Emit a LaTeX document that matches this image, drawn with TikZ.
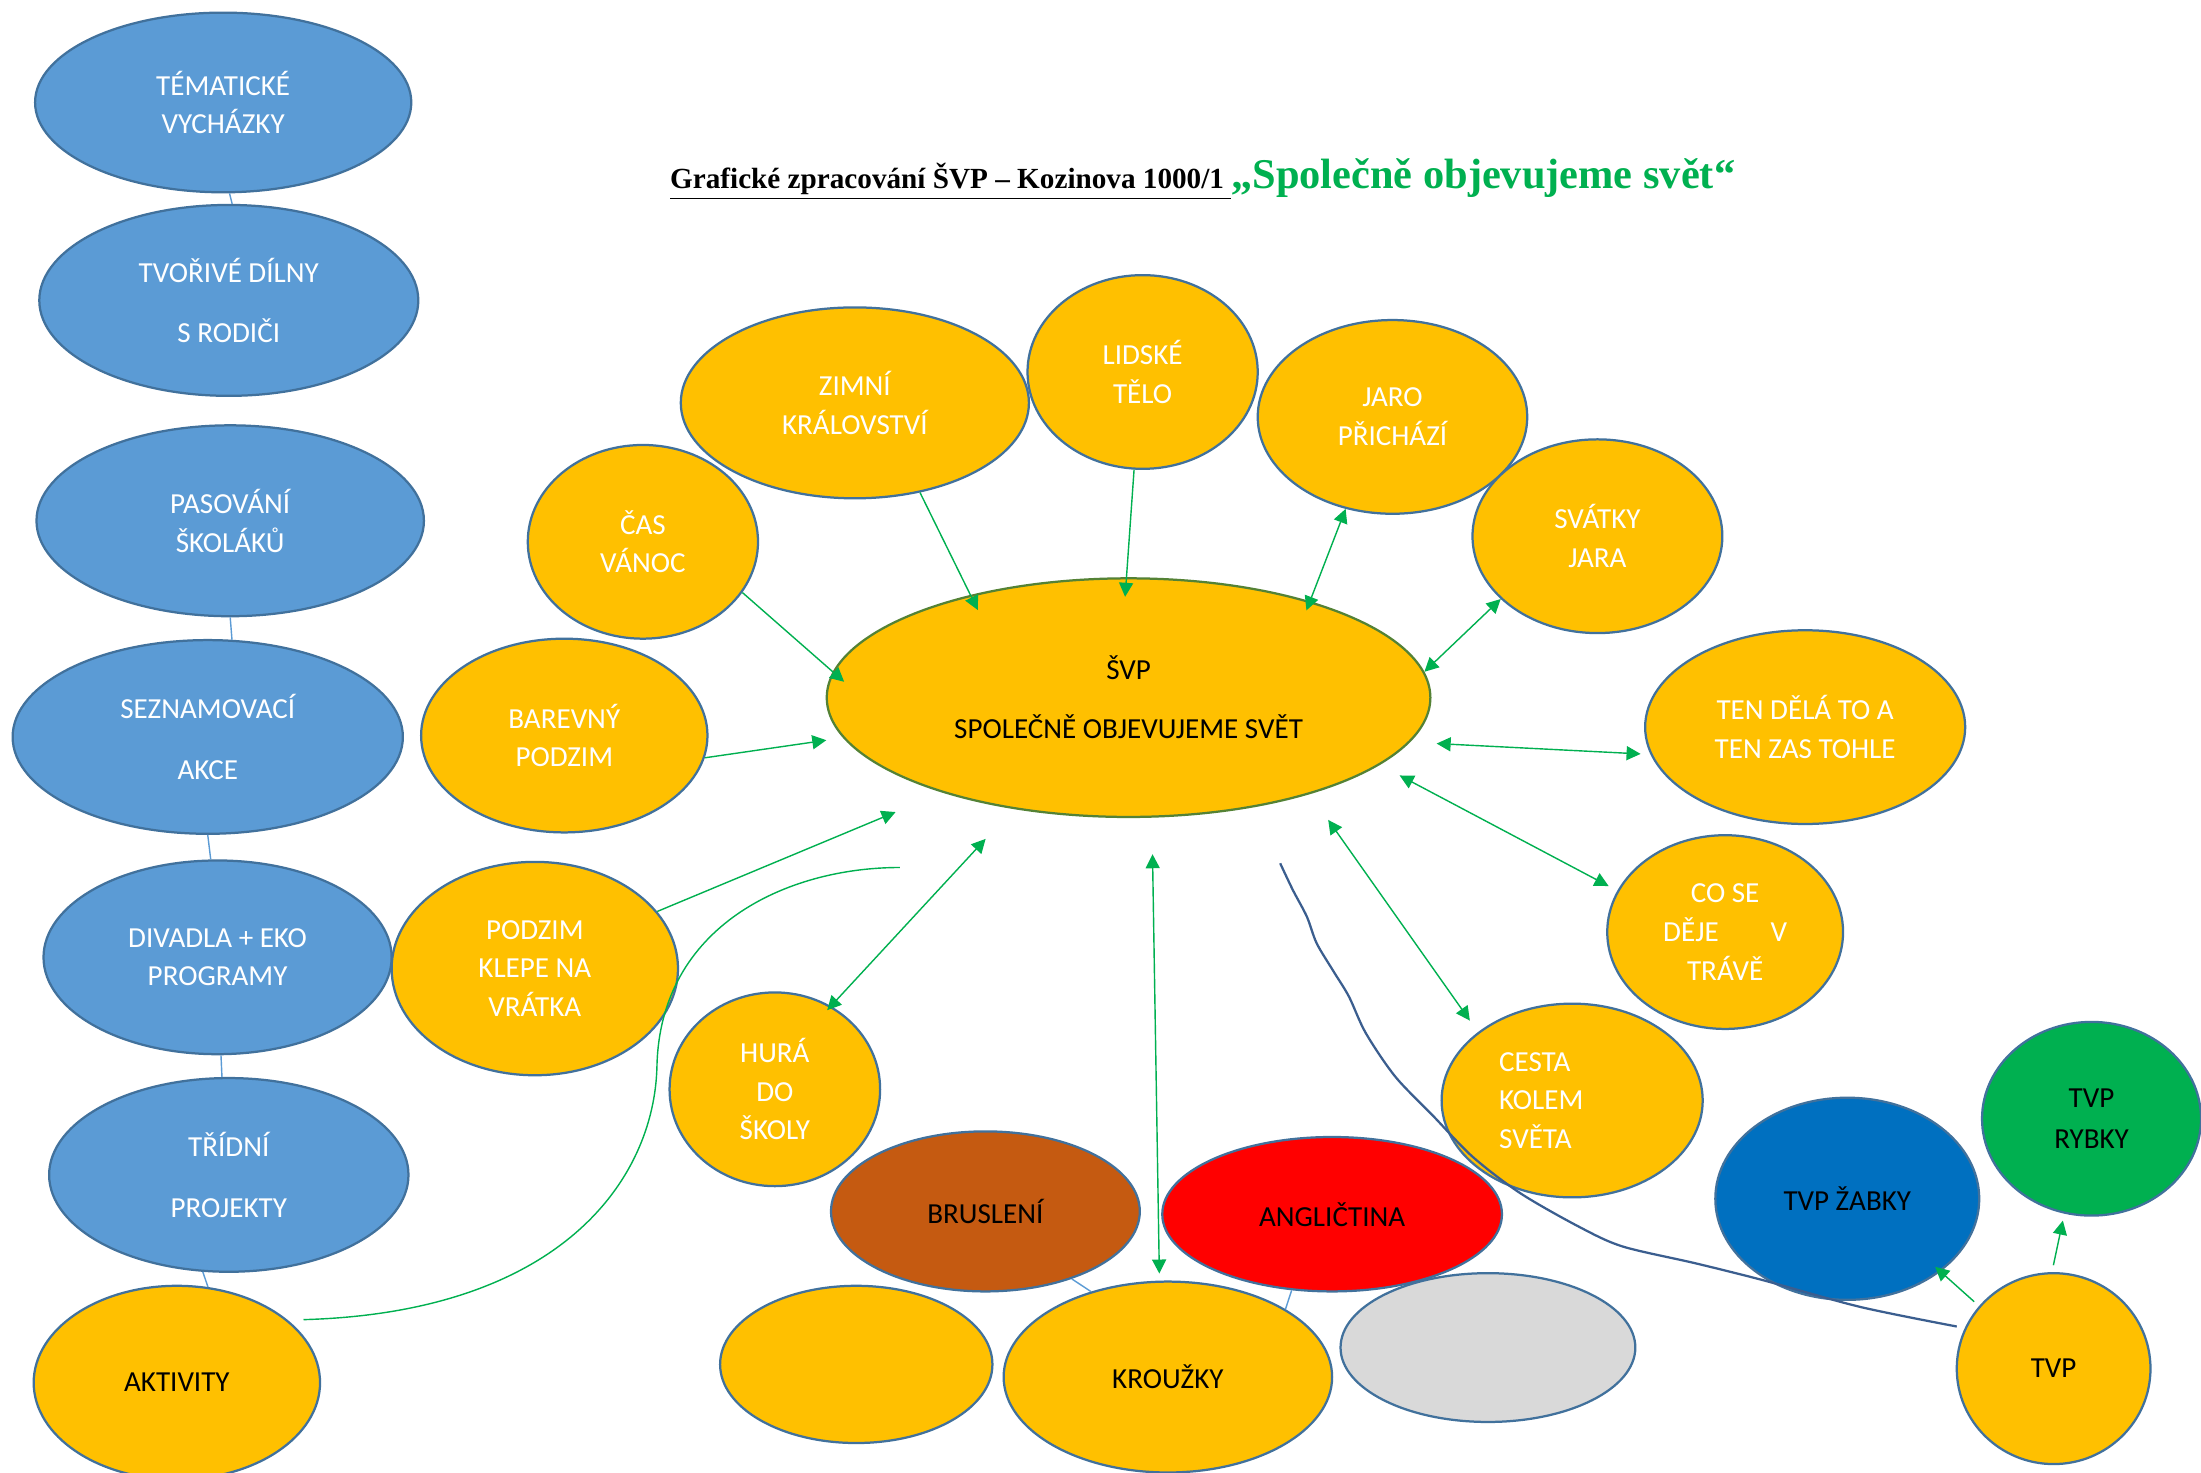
\documentclass[tikz,border=0pt]{standalone}
\usepackage{fontspec}
\setmainfont{Carlito}
\newfontfamily\nadpisfont{Liberation Serif}
\usetikzlibrary{shapes.geometric,arrows.meta}
\definecolor{modra}{HTML}{5B9BD5}
\definecolor{okraj}{HTML}{41719C}
\definecolor{zluta}{HTML}{FFC000}
\definecolor{hneda}{HTML}{C55A11}
\definecolor{cervena}{HTML}{FF0000}
\definecolor{seda}{HTML}{D9D9D9}
\definecolor{tmavemodra}{HTML}{0070C0}
\definecolor{zelena}{HTML}{00B050}
\definecolor{olivova}{HTML}{548235}
\definecolor{vlnka}{HTML}{3B5E8F}
\tikzset{
  bublina/.style = {ellipse, align=center, inner sep=0pt, draw=okraj, line width=0.8pt, font=\fontsize{10.35}{13.75}\selectfont},
  bub_m/.style = {bublina, fill=modra, text=white},
  bub_z/.style = {bublina, fill=zluta, text=white},
  bub_c/.style = {bublina, fill=zluta, text=black},
  rozmer/.style 2 args = {minimum width=#1pt, minimum height=#2pt},
  spoj/.style = {draw=modra, line width=0.5pt},
  sip/.style = {draw=zelena, line width=0.5pt, -{Triangle[length=5pt,width=5pt]}},
  sip_o/.style = {draw=zelena, line width=0.5pt, {Triangle[length=5pt,width=5pt]}-{Triangle[length=5pt,width=5pt]}},
}
\newcommand{\nadpis}[2]{{\nadpisfont\bfseries\fontsize{10.4}{12}\selectfont\underline{#1}}{\nadpisfont\bfseries\color{zelena}\fontsize{15.1}{18}\selectfont #2}}

\begin{document}
\begin{tikzpicture}[x=0.5pt, y=-0.5pt]
  \path[use as bounding box, fill=white] (0,0) rectangle (1568,1049);
  \node[anchor=base west, inner sep=0pt] (nadpis) at (477,134) {\nadpis{Grafické zpracování ŠVP – Kozinova 1000/1\ }{„Společně objevujeme svět“}};

  \node[bub_m, rozmer={134}{64}] (vychazky) at (159,73) {TÉMATICKÉ\\VYCHÁZKY};
  \node[bub_m, rozmer={135}{68}] (dilny) at (163,214) {TVOŘIVÉ DÍLNY\\[7.75pt]S RODIČI};
  \node[bub_m, rozmer={138}{68}] (pasovani) at (164,371) {PASOVÁNÍ\\ŠKOLÁKŮ};
  \node[bub_m, rozmer={139}{69}] (seznam) at (148,525) {SEZNAMOVACÍ\\[7.75pt]AKCE};
  \node[bub_m, rozmer={124}{69}] (divadla) at (155,682) {DIVADLA + EKO\\PROGRAMY};
  \node[bub_m, rozmer={128}{69}] (tridni) at (163,837) {TŘÍDNÍ\\[7.75pt]PROJEKTY};
  \node[bub_c, rozmer={102}{69}] (aktivity) at (126,985) {AKTIVITY};

  \node[bub_c, draw=olivova, rozmer={215}{85}] (svp) at (804,497) {ŠVP\\[7.25pt]SPOLEČNĚ OBJEVUJEME SVĚT};
  \node[bub_z, rozmer={124}{68}] (zimni) at (609,287) {ZIMNÍ\\KRÁLOVSTVÍ};
  \node[bub_z, rozmer={82}{69}] (lidske) at (814,265) {LIDSKÉ\\TĚLO};
  \node[bub_z, rozmer={96}{69}] (jaro) at (992,297) {JARO\\PŘICHÁZÍ};
  \node[bub_z, rozmer={82}{69}] (cas) at (458,386) {ČAS\\VÁNOC};
  \node[bub_z, rozmer={89}{69}] (svatky) at (1138,382) {SVÁTKY\\JARA};
  \node[bub_z, rozmer={102}{69}] (barevny) at (402,524) {BAREVNÝ\\PODZIM};
  \node[bub_z, rozmer={114}{69}] (ten) at (1286,518) {TEN DĚLÁ TO A\\TEN ZAS TOHLE};
  \node[bub_z, rozmer={102}{76}] (klepe) at (381,690) {PODZIM\\KLEPE NA\\VRÁTKA};
  \node[bub_z, rozmer={84}{69}] (cose) at (1229,664) {CO SE\\DĚJE\hspace{18.5pt}V\\TRÁVĚ};
  \node[bub_z, rozmer={75}{69}] (hura) at (552,776) {HURÁ\\DO\\ŠKOLY};
  \node[bub_z, rozmer={93}{69}, text width=52pt, align=left] (cesta) at (1120,784) {CESTA\\KOLEM\\SVĚTA};

  \node[bub_c, fill=hneda, rozmer={110}{57}] (brusleni) at (702,863) {BRUSLENÍ};
  \node[bub_c, fill=cervena, rozmer={121}{55}] (anglictina) at (949,865) {ANGLIČTINA};
  \node[bub_c, rozmer={97}{56}] (prazdny) at (610,972) {};
  \node[bub_c, rozmer={117}{68}] (krouzky) at (832,981) {KROUŽKY};
  \node[bub_c, fill=seda, rozmer={105}{53}] (sedy) at (1060,960) {};

  \node[bub_c, fill=tmavemodra, rozmer={94}{72}] (zabky) at (1316,854) {TVP ŽABKY};
  \node[bub_c, fill=zelena, rozmer={78}{69}] (rybky) at (1490,797) {TVP\\[1pt]RYBKY};
  \node[bub_c, rozmer={69}{68}] (tvp) at (1463,975) {TVP};

  \draw[spoj] (vychazky.-86) -- (dilny.88);
  \draw[spoj] (pasovani.-90) -- (seznam.76);
  \draw[spoj] (seznam.-90) -- (divadla.94);
  \draw[spoj] (divadla.-88) -- (tridni.94);
  \draw[spoj] (tridni.-105) -- (aktivity.72);
  \draw[spoj] (brusleni.-38) -- (krouzky.132);
  \draw[spoj] (anglictina.242) -- (krouzky.30);

  \draw[sip, shorten >=-6pt] (zimni.-54) -- (svp.147);
  \draw[sip, shorten >=-7pt] (lidske.-95) -- (svp.91);
  \draw[sip_o, shorten >=-3.5pt] (jaro.-117) -- (svp.28);
  \draw[sip_o] (svatky.-147) -- (svp.5.5);
  \draw[sip, shorten >=-5.4pt] (cas.-27) -- (svp.175);
  \draw[sip, shorten >=6pt] (barevny.-9) -- (svp.188);
  \draw[sip_o, shorten <=3.5pt, shorten >=9.5pt] (ten.190) -- (svp.-9);
  \draw[sip, shorten >=18pt] (klepe.25) -- (svp.207);
  \draw[sip_o, shorten <=-2pt, shorten >=14.5pt] (hura.56) -- (svp.224.5);
  \draw[sip_o, shorten <=2.5pt, shorten >=13pt] (krouzky.95) -- (svp.-79);
  \draw[sip_o, shorten <=5pt, shorten >=11.25pt] (cesta.144) -- (svp.-28);
  \draw[sip_o, shorten <=3.5pt, shorten >=8pt] (cose.159.5) -- (svp.-15.3);
  \draw[sip, shorten <=2.3pt, shorten >=-2.6pt] (tvp.140) -- (zabky.-38);
  \draw[sip, shorten <=2.5pt, shorten >=2.5pt] (tvp.91) -- (rybky.254.5);

  \coordinate (svpkonec) at (641,618);
  \draw[draw=zelena, line width=0.5pt] (aktivity.27) ++(8,-3) .. controls (400,935) and (466,840) .. (468,760) .. controls (470,660) and (560,618) .. (svpkonec);

  \draw[vlnka, line width=0.8pt] plot[smooth, tension=0.5] coordinates {(912,615) (921,634) (931,653) (938,672) (950,692) (961,710) (973,736) (994,767) (1021,795) (1049,824) (1083,850) (1125,874) (1156,888) (1208,900) (1256,912) (1325,931) (1394,945)};
\end{tikzpicture}
\end{document}
